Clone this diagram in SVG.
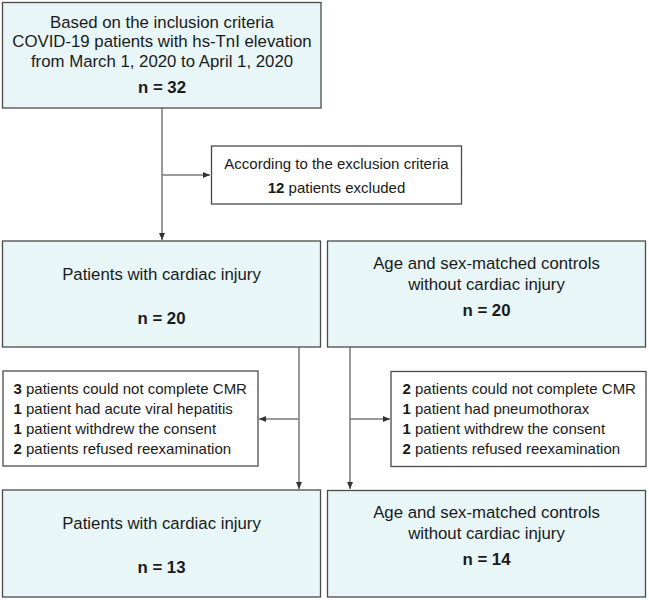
<svg xmlns="http://www.w3.org/2000/svg" width="649" height="600" viewBox="0 0 649 600">
<defs>
<style>
.box{fill:#e8f6f8;stroke:#4a4a4a;stroke-width:1.3}
.ex{fill:#ffffff;stroke:#4a4a4a;stroke-width:1.3}
.t{font-family:"Liberation Sans",Arial,sans-serif;font-size:16.8px;fill:#1a1a1a;text-anchor:middle}
.n{font-weight:bold}
.e{font-family:"Liberation Sans",Arial,sans-serif;font-size:15px;fill:#1a1a1a}
.ec{text-anchor:middle}
.b{font-weight:bold}
.c{fill:none;stroke:#7a7a7a;stroke-width:1.5}
</style>
<marker id="ah" markerUnits="userSpaceOnUse" markerWidth="8" markerHeight="7" refX="7" refY="3" orient="auto">
<path d="M0,0 L7,3 L0,6 z" fill="#333"/>
</marker>
</defs>
<rect width="649" height="600" fill="#ffffff"/>
<g id="connectors">
<line class="c" x1="162" y1="108" x2="162" y2="240" marker-end="url(#ah)"/>
<line class="c" x1="162" y1="175" x2="210" y2="175" marker-end="url(#ah)"/>
<line class="c" x1="299" y1="347" x2="299" y2="489" marker-end="url(#ah)"/>
<line class="c" x1="299" y1="419" x2="259" y2="419" marker-end="url(#ah)"/>
<line class="c" x1="350" y1="347" x2="350" y2="489" marker-end="url(#ah)"/>
<line class="c" x1="350" y1="419" x2="390" y2="419" marker-end="url(#ah)"/>
</g>
<g id="top">
<rect class="box" x="2.5" y="2.5" width="318.5" height="105.5"/>
<text class="t" x="162" y="27.5">Based on the inclusion criteria</text>
<text class="t" x="162" y="47">COVID-19 patients with hs-TnI elevation</text>
<text class="t" x="162" y="66.5">from March 1, 2020 to April 1, 2020</text>
<text class="t n" x="162" y="93">n = 32</text>
</g>
<g id="exclusion1">
<rect class="ex" x="211.5" y="146" width="250" height="58"/>
<text class="e ec" x="336.5" y="169">According to the exclusion criteria</text>
<text class="e ec" x="336.5" y="192.5"><tspan class="b">12</tspan> patients excluded</text>
</g>
<g id="mid-left">
<rect class="box" x="2.5" y="241" width="318" height="106"/>
<text class="t" x="161.5" y="280">Patients with cardiac injury</text>
<text class="t n" x="161.5" y="324">n = 20</text>
</g>
<g id="mid-right">
<rect class="box" x="327.5" y="241" width="318" height="106"/>
<text class="t" x="486.5" y="269">Age and sex-matched controls</text>
<text class="t" x="486.5" y="289.5">without cardiac injury</text>
<text class="t n" x="486.5" y="316">n = 20</text>
</g>
<g id="exclusion-left">
<rect class="ex" x="3" y="371" width="255" height="95"/>
<text class="e" x="13.5" y="393.5"><tspan class="b">3</tspan> patients could not complete CMR</text>
<text class="e" x="13.5" y="413.8"><tspan class="b">1</tspan> patient had acute viral hepatitis</text>
<text class="e" x="13.5" y="434"><tspan class="b">1</tspan> patient withdrew the consent</text>
<text class="e" x="13.5" y="454.3"><tspan class="b">2</tspan> patients refused reexamination</text>
</g>
<g id="exclusion-right">
<rect class="ex" x="391" y="371.5" width="255" height="95"/>
<text class="e" x="402.5" y="393.5"><tspan class="b">2</tspan> patients could not complete CMR</text>
<text class="e" x="402.5" y="413.8"><tspan class="b">1</tspan> patient had pneumothorax</text>
<text class="e" x="402.5" y="434"><tspan class="b">1</tspan> patient withdrew the consent</text>
<text class="e" x="402.5" y="454.3"><tspan class="b">2</tspan> patients refused reexamination</text>
</g>
<g id="bottom-left">
<rect class="box" x="2.5" y="490" width="318" height="107"/>
<text class="t" x="161.5" y="529">Patients with cardiac injury</text>
<text class="t n" x="161.5" y="573">n = 13</text>
</g>
<g id="bottom-right">
<rect class="box" x="327.5" y="490.5" width="318" height="106.5"/>
<text class="t" x="486.5" y="518">Age and sex-matched controls</text>
<text class="t" x="486.5" y="538.5">without cardiac injury</text>
<text class="t n" x="486.5" y="564.5">n = 14</text>
</g>
</svg>
